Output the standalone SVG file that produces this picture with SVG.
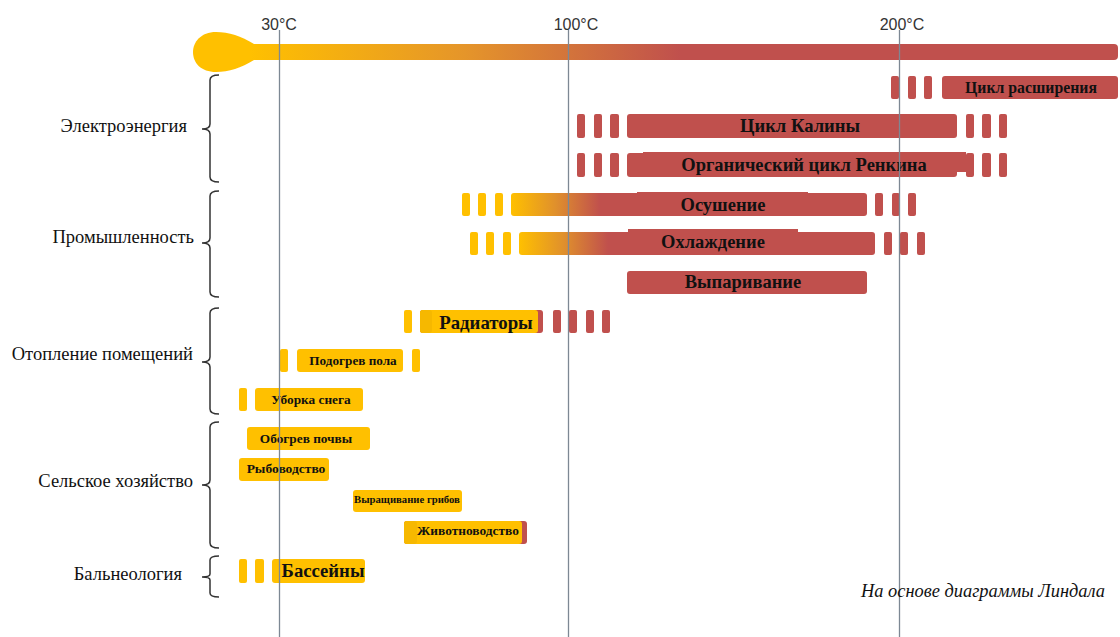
<svg xmlns="http://www.w3.org/2000/svg" width="1120" height="637" viewBox="0 0 1120 637">
<defs>
<linearGradient id="stem" gradientUnits="userSpaceOnUse" x1="250" y1="0" x2="680" y2="0">
<stop offset="0" stop-color="#FFC000"/><stop offset="0.5" stop-color="#E5952A"/><stop offset="1" stop-color="#C0504D"/>
</linearGradient>
<linearGradient id="g1" gradientUnits="userSpaceOnUse" x1="511" y1="0" x2="600" y2="0">
<stop offset="0" stop-color="#FFC000"/><stop offset="0.5" stop-color="#E0902C"/><stop offset="1" stop-color="#C0504D"/>
</linearGradient>
<linearGradient id="g2" gradientUnits="userSpaceOnUse" x1="519" y1="0" x2="608" y2="0">
<stop offset="0" stop-color="#FFC000"/><stop offset="0.5" stop-color="#E0902C"/><stop offset="1" stop-color="#C0504D"/>
</linearGradient>
</defs>
<style>
.r{fill:#C0504D}
.y{fill:#FFC000}
.t{font-family:"Liberation Serif","Times New Roman",serif;font-weight:bold;fill:#111;text-anchor:middle}
.lab{font-family:"Liberation Serif","Times New Roman",serif;font-size:18.5px;fill:#111;text-anchor:end}
.deg{font-family:"Liberation Sans",Arial,sans-serif;font-size:16px;fill:#333;text-anchor:middle}
.br{fill:none;stroke:#333;stroke-width:1.5}
.vl{stroke:#7D8894;stroke-width:1.3}
</style>
<rect width="1120" height="637" fill="#fff"/>

<g id="thermometer">
<path class="y" d="M254,44 C241,36 229,32 216,32 C201,32 193,42 193,52 C193,63 201,72 216,72 C229,72 241,68 254,60 Z"/>
<rect x="250" y="44" width="868" height="16" rx="4" fill="url(#stem)"/>
</g>

<g id="scale">
<text class="deg" x="279" y="30">30°C</text>
<text class="deg" x="576" y="30">100°C</text>
<text class="deg" x="902" y="30">200°C</text>
</g>

<g id="categories">
<text class="lab" x="187" y="132">Электроэнергия</text>
<text class="lab" x="194" y="243">Промышленность</text>
<text class="lab" x="193" y="360">Отопление помещений</text>
<text class="lab" x="193" y="487">Сельское хозяйство</text>
<text class="lab" x="182" y="580">Бальнеология</text>
</g>

<g id="node-expansion">
<rect class="r" x="891" y="76" width="8" height="23" rx="2"/>
<rect class="r" x="908" y="76" width="8" height="23" rx="2"/>
<rect class="r" x="924" y="76" width="8" height="23" rx="2"/>
<rect class="r" x="942" y="76" width="176" height="23" rx="3"/>
<text class="t" x="1031" y="93" font-size="15.8">Цикл расширения</text>
</g>

<g id="node-kalina">
<rect class="r" x="577" y="114" width="8" height="24" rx="2"/>
<rect class="r" x="594" y="114" width="8" height="24" rx="2"/>
<rect class="r" x="610" y="114" width="9" height="24" rx="2"/>
<rect class="r" x="627" y="114" width="330" height="24" rx="3"/>
<rect class="r" x="966" y="114" width="8" height="24" rx="2"/>
<rect class="r" x="982" y="114" width="9" height="24" rx="2"/>
<rect class="r" x="999" y="114" width="8" height="24" rx="2"/>
<text class="t" x="800" y="132" font-size="18.6">Цикл Калины</text>
</g>

<g id="node-orc">
<rect class="r" x="577" y="153" width="8" height="24" rx="2"/>
<rect class="r" x="594" y="153" width="8" height="24" rx="2"/>
<rect class="r" x="610" y="153" width="9" height="24" rx="2"/>
<rect class="r" x="627" y="153" width="330" height="24" rx="3"/>
<rect class="r" x="643" y="152" width="323" height="20"/>
<rect class="r" x="966" y="153" width="8" height="24" rx="2"/>
<rect class="r" x="982" y="153" width="9" height="24" rx="2"/>
<rect class="r" x="999" y="153" width="8" height="24" rx="2"/>
<text class="t" x="804" y="171" font-size="18.5">Органический цикл Ренкина</text>
</g>

<g id="node-drying">
<rect class="y" x="462" y="193" width="8" height="23" rx="2"/>
<rect class="y" x="478" y="193" width="8" height="23" rx="2"/>
<rect class="y" x="495" y="193" width="8" height="23" rx="2"/>
<rect x="511" y="193" width="356" height="23" rx="3" fill="url(#g1)"/>
<rect class="r" x="637" y="192" width="171" height="2"/>
<rect class="r" x="875" y="193" width="8" height="23" rx="2"/>
<rect class="r" x="892" y="193" width="8" height="23" rx="2"/>
<rect class="r" x="908" y="193" width="8" height="23" rx="2"/>
<text class="t" x="723" y="211" font-size="18.5">Осушение</text>
</g>

<g id="node-cooling">
<rect class="y" x="470" y="232" width="8" height="23" rx="2"/>
<rect class="y" x="486" y="232" width="8" height="23" rx="2"/>
<rect class="y" x="503" y="232" width="8" height="23" rx="2"/>
<rect x="519" y="232" width="356" height="23" rx="3" fill="url(#g2)"/>
<rect class="r" x="628" y="229" width="170" height="4"/>
<rect class="r" x="884" y="232" width="8" height="23" rx="2"/>
<rect class="r" x="900" y="232" width="8" height="23" rx="2"/>
<rect class="r" x="917" y="232" width="8" height="23" rx="2"/>
<text class="t" x="713" y="248" font-size="18.5">Охлаждение</text>
</g>

<g id="node-evaporation">
<rect class="r" x="627" y="271" width="240" height="23" rx="3"/>
<text class="t" x="743" y="288" font-size="18.5">Выпаривание</text>
</g>

<g id="node-radiators">
<rect class="y" x="404" y="310" width="8" height="23" rx="2"/>
<rect class="r" x="420" y="310" width="123" height="23" rx="3"/>
<rect class="y" x="420" y="310" width="118" height="23" rx="3"/>
<rect x="420" y="310" width="12" height="23" rx="3" fill="#F6B800"/>
<rect class="r" x="553" y="310" width="8" height="23" rx="2"/>
<rect class="r" x="569" y="310" width="8" height="23" rx="2"/>
<rect class="r" x="586" y="310" width="8" height="23" rx="2"/>
<rect class="r" x="602" y="310" width="8" height="23" rx="2"/>
<text class="t" x="486" y="329" font-size="18.8">Радиаторы</text>
</g>

<g id="node-floor">
<rect class="y" x="280" y="349" width="8" height="23" rx="2"/>
<rect class="y" x="297" y="349" width="106" height="23" rx="3"/>
<rect class="y" x="412" y="349" width="8" height="23" rx="2"/>
<text class="t" x="353" y="365" font-size="13.2">Подогрев пола</text>
</g>

<g id="node-snow">
<rect class="y" x="239" y="388" width="8" height="23" rx="2"/>
<rect class="y" x="255" y="388" width="108" height="23" rx="3"/>
<text class="t" x="311" y="404" font-size="13.3">Уборка снега</text>
</g>

<g id="node-soil">
<rect class="y" x="247" y="427" width="123" height="23" rx="3"/>
<text class="t" x="306" y="443" font-size="13.3">Обогрев почвы</text>
</g>

<g id="node-fish">
<rect class="y" x="239" y="458" width="90" height="23" rx="3"/>
<text class="t" x="286" y="473" font-size="13.5">Рыбоводство</text>
</g>

<g id="node-mushrooms">
<rect class="y" x="353" y="490" width="109" height="22" rx="3"/>
<text class="t" x="407" y="503" font-size="10.7">Выращивание грибов</text>
</g>

<g id="node-livestock">
<rect class="r" x="404" y="521" width="123" height="23" rx="3"/>
<rect class="y" x="404" y="521" width="118" height="23" rx="3"/>
<rect x="404" y="521" width="13" height="23" rx="3" fill="#F6B800"/>
<text class="t" x="468" y="535" font-size="13.4">Животноводство</text>
</g>

<g id="node-pools">
<rect class="y" x="239" y="559" width="8" height="24" rx="2"/>
<rect class="y" x="255" y="559" width="9" height="24" rx="2"/>
<rect class="y" x="272" y="559" width="93" height="24" rx="3"/>
<text class="t" x="323" y="577" font-size="18.7">Бассейны</text>
</g>

<g id="connectors">
<line class="vl" x1="279.5" y1="30" x2="279.5" y2="637"/>
<line class="vl" x1="568.5" y1="30" x2="568.5" y2="637"/>
<line class="vl" x1="899.5" y1="30" x2="899.5" y2="637"/>
<path class="br" d="M219,75 Q210,75 210,80 L210,124 Q210,129 202,129 Q210,129 210,134 L210,177 Q210,182 219,182"/>
<path class="br" d="M219,191 Q210,191 210,196 L210,238 Q210,243 202,243 Q210,243 210,248 L210,292 Q210,297 219,297"/>
<path class="br" d="M219,308 Q210,308 210,313 L210,357 Q210,362 202,362 Q210,362 210,367 L210,409 Q210,414 219,414"/>
<path class="br" d="M219,422 Q210,422 210,427 L210,480 Q210,485 202,485 Q210,485 210,490 L210,543 Q210,548 219,548"/>
<path class="br" d="M219,556 Q210,556 210,560 L210,574 Q210,577 202,577 Q210,577 210,580 L210,593 Q210,597 219,597"/>
</g>

<text x="1105" y="597" font-family="Liberation Serif,'Times New Roman',serif" font-style="italic" font-size="18.4" fill="#111" text-anchor="end">На основе диаграммы Линдала</text>
</svg>
